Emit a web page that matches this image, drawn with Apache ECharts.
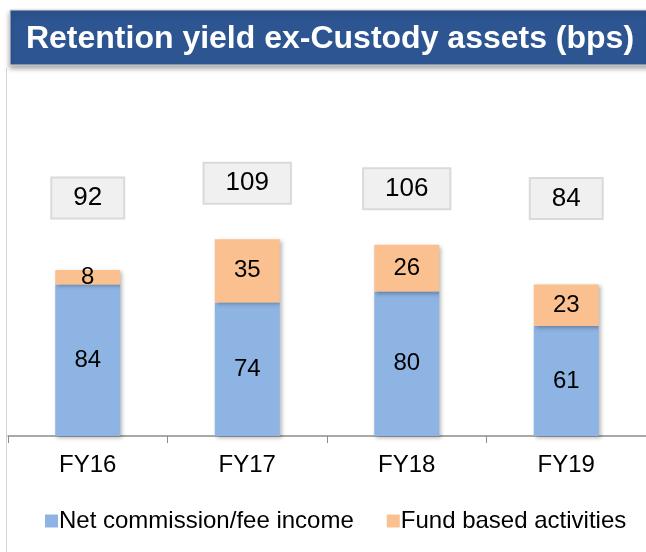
<!DOCTYPE html>
<html>
<head>
<meta charset="utf-8">
<script src="https://cdn.jsdelivr.net/npm/echarts@6/dist/echarts.min.js"></script>
<style>
  html, body { margin: 0; padding: 0; background: #ffffff; }
  #chart { width: 646px; height: 552px; }
</style>
</head>
<body>
<div id="chart"></div>
<script>
// Fiscal years and yield components (bps)
const categories = ['FY16', 'FY17', 'FY18', 'FY19'];
const netCommission = [84, 74, 80, 61];
const fundBased = [8, 35, 26, 23];

// Totals drawn in the boxes above each bar
const totals = categories.map((_, i) => netCommission[i] + fundBased[i]);

// Vertical lift (px) of each total box above its bar top
const totalLift = [72, 56, 56, 86];

const FONT = '"Liberation Sans", Arial, sans-serif';
const chart = echarts.init(document.getElementById('chart'), null, { renderer: 'canvas' });

const barShadow = {
  shadowColor: 'rgba(0,0,0,0.28)',
  shadowBlur: 4,
  shadowOffsetX: 2,
  shadowOffsetY: 2
};

chart.setOption({
  animation: false,
  backgroundColor: '#ffffff',
  graphic: [
    {
      type: 'line',
      shape: { x1: 6.5, y1: 68, x2: 6.5, y2: 552 },
      style: { stroke: '#d4d4d4', lineWidth: 1 },
      z: 1
    },
    {
      type: 'rect',
      shape: { x: 10, y: 10, width: 640, height: 55 },
      style: {
        fill: '#2D5592',
        stroke: '#d8d8d8',
        lineWidth: 1,
        shadowColor: 'rgba(0,0,0,0.35)',
        shadowBlur: 5,
        shadowOffsetY: 3
      },
      z: 2
    },
    {
      type: 'text',
      x: 330,
      y: 39,
      style: {
        text: 'Retention yield ex-Custody assets (bps)',
        fill: '#ffffff',
        font: 'bold 32px ' + FONT,
        align: 'center',
        verticalAlign: 'middle'
      },
      z: 3
    }
  ],
  legend: {
    data: ['Net commission/fee income', 'Fund based activities'],
    left: 40,
    top: 504,
    itemWidth: 13,
    itemHeight: 13,
    itemGap: 33,
    icon: 'rect',
    textStyle: { fontFamily: FONT, fontSize: 24, color: '#000000', padding: [0, 0, 0, -4] }
  },
  grid: { left: 8, right: -2, top: 75, bottom: 116, containLabel: false },
  xAxis: {
    type: 'category',
    data: categories,
    axisLine: { lineStyle: { color: '#8c8c8c', width: 1.5 } },
    axisTick: { show: true, length: 7, lineStyle: { color: '#8c8c8c' } },
    axisLabel: { fontFamily: FONT, fontSize: 24, color: '#000000', margin: 17 }
  },
  yAxis: {
    type: 'value',
    min: 0,
    max: 200,
    show: false,
    splitLine: { show: false }
  },
  series: [
    {
      name: 'Net commission/fee income',
      type: 'bar',
      stack: 'yield',
      data: netCommission,
      barWidth: 65,
      itemStyle: Object.assign({ color: '#8EB4E3' }, barShadow),
      label: {
        show: true,
        position: 'inside',
        fontFamily: FONT,
        fontSize: 24,
        color: '#000000'
      }
    },
    {
      name: 'Fund based activities',
      type: 'bar',
      stack: 'yield',
      data: fundBased,
      barWidth: 65,
      itemStyle: Object.assign({ color: '#FAC090' }, barShadow),
      label: {
        show: true,
        position: 'inside',
        fontFamily: FONT,
        fontSize: 24,
        color: '#000000'
      }
    },
    {
      name: 'Total',
      type: 'scatter',
      symbolSize: 0,
      itemStyle: { opacity: 1 },
      data: totals.map((v, i) => ({
        value: v,
        label: { offset: [0, -totalLift[i]] }
      })),
      label: {
        show: true,
        position: 'inside',
        formatter: p => String(p.value),
        fontFamily: FONT,
        fontSize: 26,
        lineHeight: 26,
        color: '#000000',
        backgroundColor: '#f0f0f0',
        borderColor: '#dadada',
        borderWidth: 2,
        padding: [7, 21, 6, 21]
      },
      z: 5
    }
  ]
});
</script>
</body>
</html>
